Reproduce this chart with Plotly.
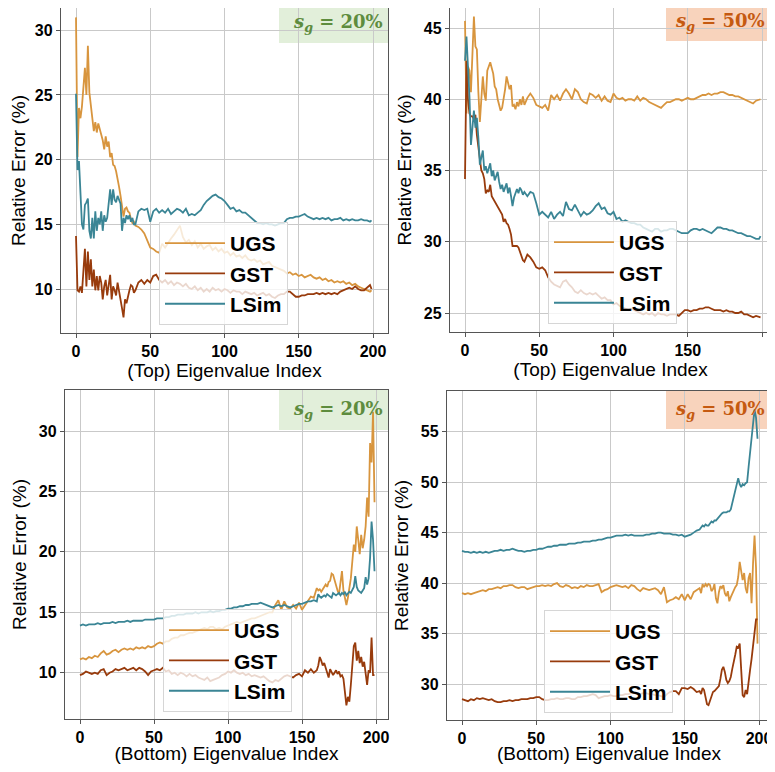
import plotly.graph_objects as go

# ---------------- data ----------------
X_TOP = list(range(0, 40)) + list(range(40, 200, 2)) + [199]
X_BOT = list(range(0, 160, 2)) + list(range(160, 200))

# Top eigenvalues, s_g = 20%
TL_UGS = [31.0, 20.2, 24.0, 23.2, 24.1, 26.0, 27.1, 25.0, 28.8, 25.2,
          24.0, 23.2, 22.2, 22.9, 22.1, 22.8, 22.4, 21.9, 21.5, 20.8,
          21.8, 21.0, 21.4, 20.2, 20.5, 19.6, 19.5, 19.1, 18.6, 17.9,
          17.2, 16.4, 15.6, 16.2, 16.3, 16.0, 15.9, 15.4, 15.1, 15.2,
          14.9, 14.8, 14.6, 14.3, 13.8, 13.2, 13.1, 12.9, 12.8, 13.5,
          13.2, 13.6, 13.9, 14.2, 14.6, 14.9, 14.0, 13.6, 13.8, 13.4,
          13.7, 13.2, 13.5, 13.1, 13.3, 13.4, 13.0, 13.2, 12.9, 13.1,
          12.8, 12.9, 12.6, 12.8, 12.5, 12.6, 12.4, 12.6, 12.3, 12.2,
          12.3, 12.1, 12.2, 11.9, 12.0, 12.1, 11.8, 11.7, 11.6, 11.5,
          11.4, 11.2, 11.3, 11.1, 11.2, 11.0, 11.1, 10.9, 11.0, 11.1,
          10.9, 10.8, 10.9, 10.7, 10.8, 10.6, 10.7, 10.5, 10.6, 10.5,
          10.6, 10.4, 10.5, 10.3, 10.4, 10.2, 10.1, 10.0, 9.9, 9.8,
          9.9]
TL_GST = [14.1, 9.9, 9.8, 10.2, 9.7, 11.6, 13.1, 10.2, 12.9, 10.7,
          12.3, 10.2, 11.5, 9.9, 11.0, 9.9, 11.0, 10.5, 9.2, 10.2,
          10.7, 9.5, 10.2, 11.1, 9.2, 10.2, 9.9, 9.5, 10.5, 9.7,
          9.0, 8.5, 7.8, 9.2, 8.9, 9.5, 9.9, 10.3, 10.2, 9.7,
          9.9, 10.5, 10.7, 10.4, 10.7, 10.5, 11.0, 11.1, 10.7, 10.5,
          10.7, 10.4, 10.6, 10.3, 10.5, 10.4, 10.2, 10.4, 10.1, 10.0,
          10.2, 9.9, 10.1, 9.8, 10.0, 9.8, 10.1, 9.9, 10.0, 9.8,
          10.0, 9.9, 9.7, 9.9, 9.8, 9.8, 9.6, 9.8, 9.7, 9.6,
          9.7, 9.5, 9.6, 9.7, 9.5, 9.6, 9.4, 9.3, 9.5, 9.6,
          9.6, 9.8, 9.8, 9.6, 9.4, 9.4, 9.5, 9.5, 9.6, 9.6,
          9.6, 9.7, 9.6, 9.7, 9.6, 9.7, 9.6, 9.7, 9.6, 9.8,
          9.9, 10.0, 10.1, 10.0, 10.2, 10.0, 9.9, 9.9, 10.1, 10.3,
          10.0]
TL_LSIM = [25.1, 19.2, 19.9, 16.7, 15.0, 14.6, 16.5, 16.7, 17.0, 14.5,
           13.9, 15.5, 13.9, 16.0, 14.5, 15.5, 15.0, 16.0, 14.5, 15.7,
           15.2, 15.5, 16.7, 17.7, 16.5, 17.7, 16.9, 16.7, 17.2, 16.9,
           16.6, 14.5, 15.5, 15.1, 15.7, 15.4, 15.7, 15.2, 15.5, 15.0,
           15.0, 16.0, 16.2, 16.1, 16.2, 15.2, 16.0, 16.2, 15.9, 16.1,
           15.9, 16.2, 15.8, 16.0, 16.2, 16.1, 15.9, 16.2, 15.7, 15.8,
           15.7, 15.9, 16.1, 16.5, 16.8, 17.0, 17.2, 17.3, 17.1, 17.0,
           16.8, 16.5, 16.2, 16.3, 16.0, 16.1, 15.9, 15.9, 15.7, 15.5,
           15.3, 15.1, 15.1, 15.0, 15.1, 15.0, 15.0, 14.9, 15.0, 15.1,
           15.1, 15.4, 15.5, 15.5, 15.6, 15.6, 15.7, 15.8, 15.6, 15.5,
           15.4, 15.5, 15.4, 15.5, 15.4, 15.5, 15.3, 15.4, 15.4, 15.5,
           15.3, 15.4, 15.3, 15.4, 15.3, 15.3, 15.4, 15.3, 15.3, 15.2,
           15.3]

# Top eigenvalues, s_g = 50%
TR_UGS = [45.5, 39.0, 42.3, 42.0, 40.5, 43.0, 45.8, 43.7, 43.5, 40.5,
          38.4, 40.0, 41.6, 40.4, 39.9, 42.0, 42.4, 42.6, 42.2, 41.8,
          40.9, 40.7, 40.0, 39.5, 39.2, 39.4, 40.0, 40.7, 41.6, 41.2,
          40.7, 41.0, 39.5, 39.6, 39.3, 39.8, 39.5, 40.0, 39.6, 40.2,
          39.6, 40.1, 40.4, 40.1, 39.6, 39.5, 39.4, 39.6, 39.2, 40.3,
          40.0, 40.3, 39.9, 40.4, 40.7, 40.4, 40.0, 40.7, 40.5, 40.0,
          39.8, 39.7, 40.4, 40.3, 40.1, 40.3, 39.9, 40.2, 39.9, 39.8,
          40.4, 40.1, 40.0, 40.1, 39.9, 40.0, 40.0, 39.9, 40.2, 39.9,
          40.1, 40.0, 39.8, 39.7, 39.6, 39.5, 39.4, 39.6, 39.8, 39.8,
          39.9, 40.0, 40.0, 39.9, 40.0, 40.1, 40.0, 40.0, 40.1, 40.2,
          40.3, 40.3, 40.4, 40.3, 40.4, 40.4, 40.5, 40.5, 40.4, 40.3,
          40.3, 40.2, 40.2, 40.1, 40.0, 39.9, 39.8, 39.7, 39.9, 40.0,
          40.0]
TR_GST = [34.4, 42.7, 40.0, 39.0, 38.8, 38.8, 38.6, 38.9, 37.5, 36.5,
          35.5, 35.0, 34.8, 34.4, 33.4, 33.6, 33.5, 34.0, 33.2, 33.0,
          32.8, 32.6, 32.5, 32.3, 32.0, 31.9, 31.4, 31.6, 31.3, 31.2,
          30.9, 30.5, 29.7, 29.7, 29.7, 29.7, 29.6, 29.3, 29.0, 28.7,
          28.6, 29.1, 28.9, 28.6, 28.2, 28.1, 28.2, 28.0, 27.5, 27.2,
          27.0, 26.9, 26.8, 27.2, 27.3, 27.0, 26.8, 26.5, 26.4, 26.6,
          26.4, 26.3, 26.4, 26.3, 26.4, 26.2, 26.0, 26.1, 25.9, 25.9,
          25.6, 25.7, 25.5, 25.4, 25.3, 25.2, 25.3, 25.2, 25.1, 25.0,
          24.9, 25.0, 24.9, 25.0, 24.8, 25.0, 24.9, 24.9, 24.8, 24.9,
          24.9, 24.9, 24.8, 25.0, 25.2, 25.2, 25.1, 25.2, 25.2, 25.3,
          25.3, 25.4, 25.4, 25.3, 25.2, 25.2, 25.2, 25.1, 25.2, 25.1,
          25.1, 25.0, 25.0, 25.1, 24.9, 24.9, 24.8, 24.7, 24.8, 24.7,
          24.7]
TR_LSIM = [42.7, 44.4, 42.3, 40.2, 36.8, 38.3, 39.2, 38.0, 38.7, 37.3,
           35.4, 35.9, 36.4, 35.0, 35.3, 34.8, 35.2, 35.5, 34.6, 35.0,
           34.3, 34.6, 34.9, 34.2, 33.7, 34.0, 33.5, 33.8, 34.1, 33.4,
           33.8, 33.2, 32.5, 33.1, 33.5, 33.7, 33.4, 33.8, 33.6, 33.3,
           33.5, 33.2, 33.5, 33.4, 32.7, 31.9, 32.1, 31.9, 31.7, 32.1,
           31.6, 31.9, 32.1, 31.8, 32.8, 32.3, 32.2, 32.6, 32.2, 31.8,
           32.1, 31.9, 32.0, 32.2, 32.5, 32.7, 32.3, 32.4, 32.0, 31.9,
           32.1, 31.6, 31.7, 31.4, 31.5, 31.4, 31.3, 31.3, 31.2, 31.2,
           31.0, 30.9, 30.8, 30.7, 30.9, 30.9, 30.7, 30.8, 30.8, 30.9,
           30.9, 30.8, 30.7, 30.6, 30.6, 30.6, 30.8, 30.9, 30.9, 30.8,
           30.9, 30.8, 30.7, 30.6, 30.8, 31.0, 31.0, 30.9, 30.9, 30.8,
           30.8, 30.7, 30.6, 30.6, 30.5, 30.4, 30.4, 30.3, 30.2, 30.2,
           30.4]

# Bottom eigenvalues, s_g = 20%
BL_UGS = [11.1, 11.2, 11.1, 11.3, 11.2, 11.4, 11.3, 11.6, 11.8, 11.5,
          11.6, 11.8, 11.9, 11.7, 11.9, 12.0, 11.9, 12.0, 11.9, 12.1,
          12.0, 12.1, 12.0, 12.2, 12.1, 12.2, 12.4, 12.5, 12.4, 12.6,
          12.6, 12.8, 12.9, 12.9, 13.1, 13.1, 13.2, 13.3, 13.3, 13.4,
          13.5, 13.6, 13.7, 13.6, 13.8, 13.8, 13.6, 13.7, 13.6, 13.8,
          13.9, 14.0, 14.1, 14.2, 14.1, 14.2, 14.3, 14.4, 14.5, 14.5,
          14.6, 14.7, 14.8, 14.9, 15.0, 15.0, 15.6, 16.0, 15.2, 15.9,
          15.4, 15.3, 15.6, 15.3, 15.8, 15.2, 15.6, 15.9, 16.3, 16.2,
          17.0, 16.8, 16.9, 16.7, 16.9, 17.0, 17.3, 17.1, 17.5, 17.6,
          18.2, 18.1, 17.6, 17.2, 16.8, 16.5, 17.5, 18.4, 16.8, 16.0,
          15.6, 16.2, 16.9, 17.8, 19.2, 20.6, 20.0, 22.1, 21.0, 19.8,
          21.4, 20.3, 21.0, 22.1, 24.5, 22.9, 29.0, 27.4, 31.6, 24.1]
BL_GST = [9.8, 9.9, 10.1, 10.0, 9.9, 10.0, 9.9, 10.2, 10.3, 9.8,
          10.0, 10.1, 10.3, 10.2, 10.3, 10.4, 10.2, 10.3, 10.4, 10.2,
          10.4, 10.3, 10.1, 9.8, 10.1, 10.2, 10.3, 10.2, 10.4, 10.1,
          10.2, 9.9, 10.0, 9.8, 10.0, 9.9, 9.7, 9.9, 9.7, 9.8,
          9.6, 9.5, 9.4, 9.6, 9.3, 9.4, 9.5, 9.6, 9.8, 9.9,
          10.1, 10.0, 10.2, 10.0, 9.9, 10.0, 9.8, 9.9, 9.7, 9.8,
          9.7, 9.6, 9.7, 9.5, 9.3, 9.2, 9.4, 9.3, 9.5, 9.7,
          9.8, 9.7, 9.6, 9.8, 9.9, 9.7, 10.2, 10.0, 10.3, 10.0,
          10.2, 10.6, 11.3, 11.0, 10.6, 10.8, 10.4, 9.9, 9.6, 10.3,
          10.1, 9.8, 10.0, 10.2, 9.9, 10.1, 9.7, 9.8, 9.5, 8.6,
          7.3, 8.0, 7.6, 9.0, 10.5, 12.2, 12.5, 11.0, 11.8, 10.8,
          11.3, 10.5, 10.9, 9.8, 9.0, 10.2, 10.0, 12.9, 9.8, 9.8]
BL_LSIM = [13.9, 14.0, 13.9, 14.0, 14.0, 14.0, 14.1, 14.0, 14.1, 14.1,
           14.1, 14.2, 14.1, 14.2, 14.2, 14.2, 14.3, 14.2, 14.3, 14.3,
           14.3, 14.3, 14.4, 14.4, 14.4, 14.4, 14.5, 14.5, 14.5, 14.6,
           14.6, 14.7, 14.7, 14.8, 14.8, 14.8, 14.9, 14.9, 14.9, 15.0,
           14.9, 15.0, 15.0, 15.0, 15.1, 15.0, 15.1, 15.1, 15.2, 15.2,
           15.3, 15.3, 15.4, 15.4, 15.5, 15.5, 15.6, 15.6, 15.7, 15.7,
           15.7, 15.8, 15.7, 15.6, 15.5, 15.4, 15.5, 15.6, 15.5, 15.6,
           15.5, 15.4, 15.5, 15.6, 15.7, 15.7, 15.8, 15.9, 15.9, 16.0,
           15.9, 16.5, 16.3, 16.2, 16.3, 16.4, 16.3, 16.5, 16.4, 16.3,
           16.2, 16.6, 16.5, 16.4, 16.5, 16.6, 16.4, 16.6, 16.5, 16.7,
           16.4, 16.6, 16.7, 16.6, 16.8, 17.1, 18.0, 17.1, 16.8, 16.7,
           16.6, 16.8, 17.0, 17.9, 17.3, 17.8, 19.5, 22.5, 21.0, 18.4]

# Bottom eigenvalues, s_g = 50%
BR_UGS = [39.0, 38.9, 39.0, 38.9, 39.0, 39.1, 39.2, 39.3, 39.2, 39.4,
          39.4, 39.5, 39.6, 39.5, 39.7, 39.7, 39.8, 39.8, 39.6, 39.5,
          39.6, 39.6, 39.4, 39.5, 39.6, 39.7, 39.7, 39.8, 39.7, 39.8,
          39.7, 39.9, 40.0, 39.7, 39.6, 39.8, 39.7, 39.5, 39.6, 39.5,
          39.7, 39.6, 39.8, 39.7, 39.7, 39.8, 39.9, 39.1, 39.3, 39.4,
          39.6, 39.7, 39.8, 39.7, 39.6, 39.7, 39.5, 39.8, 39.7, 39.4,
          39.2, 39.5, 39.4, 39.3, 39.4, 39.5, 39.3, 38.9, 39.6, 38.1,
          38.3, 38.4, 38.6, 38.4, 38.9, 38.3, 38.9, 38.4, 39.1, 39.3,
          39.5, 39.0, 39.9, 39.6, 39.9, 39.7, 39.9, 39.8, 39.2, 39.4,
          39.9, 38.5, 38.0, 39.1, 39.7, 39.5, 39.8, 39.0, 38.7, 39.2,
          38.2, 38.6, 39.0, 39.3, 39.6, 39.8, 40.6, 42.1, 41.3, 40.3,
          41.0, 39.5, 39.0, 40.5, 41.0, 38.0, 42.0, 44.7, 41.5, 34.0]
BR_GST = [28.5, 28.4, 28.3, 28.5, 28.4, 28.6, 28.5, 28.6, 28.5, 28.4,
          28.5, 28.3, 28.2, 28.2, 28.3, 28.3, 28.4, 28.3, 28.4, 28.4,
          28.5, 28.5, 28.5, 28.6, 28.6, 28.7, 28.7, 28.5, 28.4, 28.4,
          28.5, 28.5, 28.6, 28.5, 28.5, 28.6, 28.6, 28.5, 28.5, 28.7,
          28.7, 28.8, 28.8, 28.9, 29.0, 28.9, 28.6, 28.7, 28.8, 28.8,
          28.9, 28.8, 28.8, 28.9, 28.9, 29.0, 29.0, 29.1, 29.1, 29.0,
          29.0, 29.1, 29.1, 29.0, 29.0, 28.9, 28.9, 28.8, 28.7, 29.0,
          29.2, 29.3, 29.3, 29.0, 29.6, 29.6, 29.5, 29.7, 29.5, 29.2,
          29.3, 29.0, 29.6, 29.4, 28.5, 28.0, 27.9, 28.4, 28.9, 29.2,
          29.3, 29.5, 29.6, 29.8, 30.5, 31.4, 31.7, 31.2, 30.4, 30.1,
          30.3, 30.7, 31.5, 32.1, 32.9, 33.7, 33.6, 34.0, 31.7, 28.9,
          28.7, 29.4, 29.0, 30.4, 31.4, 32.5, 33.7, 35.0, 36.4, 36.4]
BR_LSIM = [43.2, 43.1, 43.1, 43.0, 43.1, 43.0, 43.1, 43.0, 43.1, 43.0,
           43.1, 43.2, 43.2, 43.3, 43.2, 43.3, 43.3, 43.4, 43.3, 43.2,
           43.2, 43.1, 43.2, 43.2, 43.3, 43.3, 43.4, 43.4, 43.5, 43.6,
           43.6, 43.7, 43.7, 43.8, 43.8, 43.8, 43.9, 43.9, 43.9, 44.0,
           44.0, 44.1, 44.1, 44.1, 44.2, 44.2, 44.3, 44.3, 44.4, 44.5,
           44.5, 44.6, 44.7, 44.7, 44.7, 44.8, 44.7, 44.8, 44.7, 44.7,
           44.7, 44.7, 44.8, 44.8, 44.9, 44.9, 45.0, 45.0, 44.9, 44.9,
           44.9, 44.8, 44.8, 44.7, 44.8, 44.6, 44.7, 44.8, 45.0, 45.2,
           45.3, 45.5, 45.7, 45.6, 45.8, 45.7, 45.7, 45.9, 46.1, 46.0,
           46.2, 46.2, 46.4, 46.6, 46.8, 46.9, 47.0, 47.0, 47.0, 47.1,
           47.1, 47.3, 47.9, 48.4, 49.0, 49.5, 50.4, 49.8, 49.5, 49.8,
           49.7, 49.9, 50.0, 51.5, 53.0, 54.5, 55.8, 57.2, 56.4, 54.3]

SERIES_NAMES = ["UGS", "GST", "LSim"]
X_TICKS = [0, 50, 100, 150, 200]
PANEL_PCTS = ["20%", "50%", "20%", "50%"]
X_TITLES = ["(Top) Eigenvalue Index", "(Top) Eigenvalue Index",
            "(Bottom) Eigenvalue Index", "(Bottom) Eigenvalue Index"]
Y_TITLE = "Relative Error (%)"

# ---------------- styling / layout ----------------
COLORS = {"UGS": "#D8953E", "GST": "#983B0C", "LSim": "#3A8595"}
SANS = "Liberation Sans, Arial, sans-serif"
SERIF = "DejaVu Serif, Liberation Serif, serif"

# the page body keeps an 8px margin, so the figure is sized and placed to fit
OFF = 8
W, H = 775 - OFF, 772 - 2 * OFF


def fx(px):
    return min(1.0, (px - OFF) / W)


def fy(py):
    return 1 - (py - OFF) / H


def span(p_lo, p_hi, a_pix, a_val, b_pix, b_val):
    """axis range at two frame pixels, from two known tick pixel positions"""
    k = (b_val - a_val) / (b_pix - a_pix)
    return [a_val + (p_lo - a_pix) * k, a_val + (p_hi - a_pix) * k]


# frame pixels (page coords) and tick pixel anchors
panels = [
    dict(x=X_TOP, ys=[TL_UGS, TL_GST, TL_LSIM], fxp=(61, 388), fyp=(8, 333),
         xs=(76, 0, 373, 200), ysc=(289, 10, 30.3, 30), yt=[10, 15, 20, 25, 30],
         leg=(159, 222), box=(279, 8, 388, 43), tcy=23.5,
         box_bg="#E2EFDA", box_fg="#5E8C3E"),
    dict(x=X_TOP, ys=[TR_UGS, TR_GST, TR_LSIM], fxp=(450, 771), fyp=(8, 332),
         xs=(465, 0, 762, 200), ysc=(313, 25, 28, 45), yt=[25, 30, 35, 40, 45],
         leg=(548, 221), box=(666, 8, 775, 41), tcy=22,
         box_bg="#F8D3BC", box_fg="#C55A11"),
    dict(x=X_BOT, ys=[BL_UGS, BL_GST, BL_LSIM], fxp=(65, 388), fyp=(390, 719),
         xs=(80, 0, 376, 200), ysc=(672.7, 10, 431, 30), yt=[10, 15, 20, 25, 30],
         leg=(163, 609), box=(279, 390, 388, 430), tcy=410,
         box_bg="#E2EFDA", box_fg="#5E8C3E"),
    dict(x=X_BOT, ys=[BR_UGS, BR_GST, BR_LSIM], fxp=(447, 771), fyp=(391, 720),
         xs=(462, 0, 759, 200), ysc=(684, 30, 431.7, 55), yt=[30, 35, 40, 45, 50, 55],
         leg=(544, 610), box=(666, 391, 775, 429), tcy=410,
         box_bg="#F8D3BC", box_fg="#C55A11"),
]

fig = go.Figure()
layout = dict(width=W, height=H, margin=dict(l=0, r=0, t=0, b=0, autoexpand=False),
              paper_bgcolor="white", plot_bgcolor="white", shapes=[], annotations=[])

for i, p in enumerate(panels):
    n = "" if i == 0 else str(i + 1)
    xa, ya, lg = "x" + n, "y" + n, "legend" + n
    for name, ys in zip(SERIES_NAMES, p["ys"]):
        fig.add_trace(go.Scatter(x=p["x"], y=ys, mode="lines", name=name,
                                 line=dict(color=COLORS[name], width=1.8),
                                 xaxis=xa, yaxis=ya, legend=lg, showlegend=True))
    xr = span(p["fxp"][0], p["fxp"][1], *p["xs"])
    yr = span(p["fyp"][1], p["fyp"][0], *p["ysc"])
    common = dict(showline=True, mirror=True, linecolor="#555555", linewidth=1.3,
                  showgrid=True, gridcolor="#c9c9c9", gridwidth=1, zeroline=False,
                  ticks="outside", ticklen=4, tickcolor="#555555",
                  tickfont=dict(family=SANS, size=16, color="black", weight="bold"),
                  automargin=False)
    layout["xaxis" + n] = dict(common, domain=[fx(p["fxp"][0]), fx(p["fxp"][1])],
                               anchor=ya, range=xr, tickvals=X_TICKS,
                               title=dict(text=X_TITLES[i], standoff=0,
                                          font=dict(family=SANS, size=19, color="black")))
    layout["yaxis" + n] = dict(common, domain=[fy(p["fyp"][1]), fy(p["fyp"][0])],
                               anchor=xa, range=yr, tickvals=p["yt"],
                               title=dict(text=Y_TITLE, standoff=7,
                                          font=dict(family=SANS, size=19, color="black")))
    layout[lg] = dict(x=fx(p["leg"][0]), y=fy(p["leg"][1]), xanchor="left", yanchor="top",
                      bgcolor="rgba(255,255,255,0.8)", bordercolor="#d6d6d6", borderwidth=1,
                      font=dict(family=SANS, size=21, color="black", weight="bold"),
                      itemwidth=60, tracegroupgap=0)
    bx0, by0, bx1, by1 = p["box"]
    layout["shapes"].append(dict(type="rect", xref="paper", yref="paper",
                                 x0=fx(bx0), x1=fx(bx1), y0=fy(by1), y1=fy(by0),
                                 fillcolor=p["box_bg"], line=dict(width=0), layer="below"))
    layout["annotations"].append(dict(
        xref="paper", yref="paper", x=fx(338 if i % 2 == 0 else 720), y=fy(p["tcy"]),
        xanchor="center", yanchor="middle",
        text="<b><i>s</i><sub><i>g</i></sub> = " + PANEL_PCTS[i] + "</b>", showarrow=False,
        font=dict(family=SERIF, size=18, color=p["box_fg"])))

fig.update_layout(**layout)
fig.write_html("out.html")
